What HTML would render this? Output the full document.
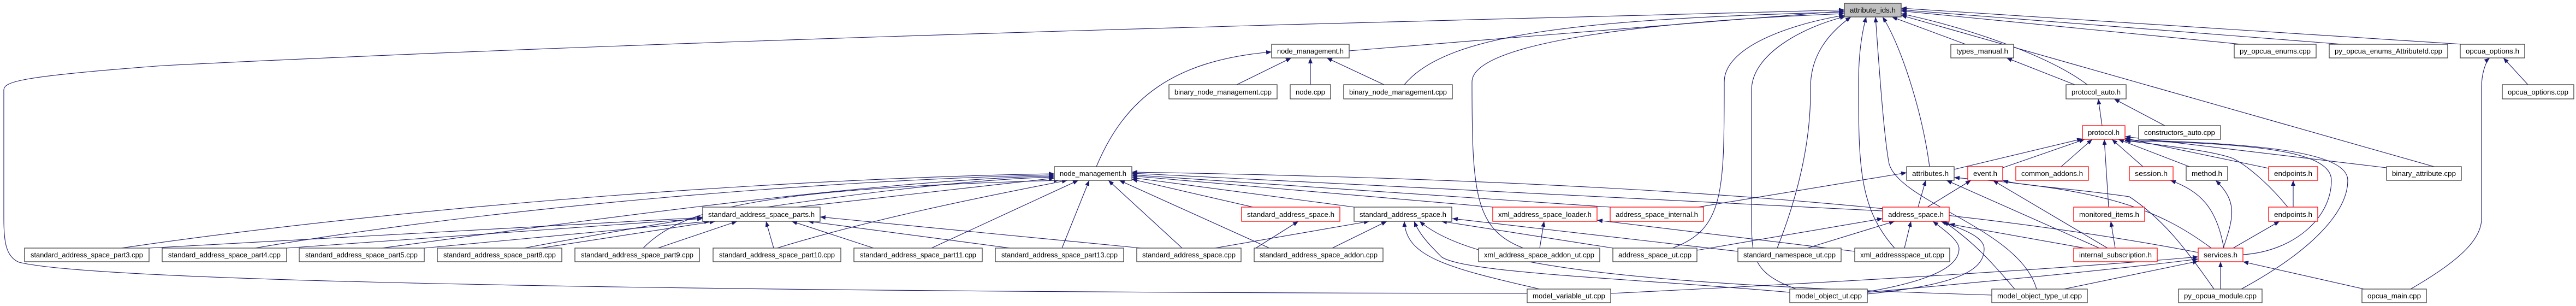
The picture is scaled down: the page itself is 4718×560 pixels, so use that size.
<!DOCTYPE html>
<html><head><meta charset="utf-8"><style>
html,body{margin:0;padding:0;background:#fff}
svg{display:block}
text{font-family:"Liberation Sans",Arial,sans-serif;font-size:12.5px;fill:#000}
.e{fill:none;stroke:#191970;stroke-width:1.1}
.b{fill:#fff;stroke:#404040;stroke-width:1.3}
.r{fill:#fff;stroke:#ff0000;stroke-width:1.3}
.g{fill:#bfbfbf;stroke:#404040;stroke-width:1.3}
</style></head><body>
<svg width="4718" height="560" viewBox="0 0 4718 560" xmlns="http://www.w3.org/2000/svg">
<defs><marker id="a" markerWidth="10" markerHeight="8" refX="10" refY="4" orient="auto" markerUnits="userSpaceOnUse"><path d="M0,0 L10,4 L0,8 Z" fill="#191970"/></marker></defs>
<g class="e" marker-end="url(#a)">
<!-- to node_management.h (row4) -->
<path d="M222,454 C800,370 1500,325 1931,318"/>
<path d="M467,454 C900,380 1500,330 1931,320"/>
<path d="M700,454 C1100,400 1600,330 1931,322"/>
<path d="M960,454 C1300,390 1700,330 1931,324"/>
<path d="M1178,454 C1250,380 1400,345 1940,330"/>
<path d="M1423,454 C1600,400 1800,360 1955,330"/>
<path d="M1706,454 L1975,330"/>
<path d="M1945,454 L1995,330"/>
<path d="M2165,454 L2030,330"/>
<path d="M2325,454 L2050,330"/>
<path d="M1460,379 L1931,326"/>
<path d="M2295,379 L2073,328"/>
<path d="M2480,379 L2073,325"/>
<path d="M2734,379 L2073,322"/>
<path d="M2949,379 L2073,320"/>
<path d="M3448,386 L2073,317"/>
<path d="M4026,462 C3600,380 3000,330 2073,315"/>
<!-- to standard_address_space_parts.h -->
<path d="M273,454 L1287,398"/>
<path d="M525,454 L1287,400"/>
<path d="M777,454 L1300,405"/>
<path d="M990,454 L1310,405"/>
<path d="M1205,454 L1350,405"/>
<path d="M1417,454 L1403,405"/>
<path d="M1600,454 L1450,405"/>
<path d="M1850,454 L1480,405"/>
<path d="M2090,454 L1502,397"/>
<!-- to node_management.h (row1) -->
<path d="M2265,155 L2365,106"/>
<path d="M2400,155 L2400,106"/>
<path d="M2535,155 L2430,106"/>
<path d="M2008,305 C2060,180 2150,110 2329,95"/>
<!-- to attribute_ids.h -->
<path d="M2471,93 L3378,20"/>
<path d="M2572,155 C2650,60 2900,35 3378,22"/>
<path d="M2790,454 C2700,420 2696,350 2696,150 C2696,80 3000,40 3378,25"/>
<path d="M3063,454 C3158,420 3158,350 3158,150 C3158,80 3300,40 3378,28"/>
<path d="M2797,537 C1500,535 200,520 35,480 C10,470 7,440 7,400 L7,165 C7,150 30,140 300,120 C1500,60 3000,30 3378,18"/>
<path d="M3255,454 C3316,300 3316,200 3316,160 C3316,100 3350,60 3390,31"/>
<path d="M3470,454 C3404,380 3404,300 3404,150 C3404,100 3410,60 3418,31"/>
<path d="M3730,529 C3700,420 3480,370 3460,300 C3450,250 3440,100 3435,31"/>
<path d="M3534,305 C3520,200 3480,80 3448,31"/>
<path d="M3290,529 C3210,500 3208,470 3208,400 L3208,165 C3208,100 3300,50 3380,30"/>
<path d="M3600,81 L3465,31"/>
<path d="M3823,155 C3750,100 3600,50 3482,25"/>
<path d="M4458,305 L3482,28"/>
<path d="M4105,81 L3482,20"/>
<path d="M4290,81 L3482,18"/>
<path d="M4510,81 L3482,15"/>
<!-- protocol chain -->
<path d="M3800,155 L3675,106"/>
<path d="M3850,230 L3843,181"/>
<path d="M3965,230 L3872,181"/>
<path d="M3579,310 L3814,254"/>
<path d="M3668,307 L3818,255"/>
<path d="M3775,305 L3832,255"/>
<path d="M3862,379 L3854,255"/>
<path d="M3925,305 L3868,255"/>
<path d="M4010,305 L3880,255"/>
<path d="M4155,308 L3892,253"/>
<path d="M4371,307 L3892,250"/>
<path d="M4108,466 C4200,460 4270,400 4270,330 C4270,280 4150,262 3892,258"/>
<path d="M4105,529 C4250,450 4300,380 4300,330 C4300,280 4150,262 3892,256"/>
<path d="M4190,379 C4150,330 4110,300 4090,290 C4050,275 3950,265 3892,257"/>
<path d="M4073,454 C4060,380 4030,350 3975,330"/>
<path d="M4072,454 C4090,400 4100,370 4058,330"/>
<path d="M4090,454 L4175,405"/>
<path d="M4200,379 L4200,330"/>
<!-- to address_space.h -->
<path d="M3310,454 L3470,405"/>
<path d="M3108,458 L3448,400"/>
<path d="M3488,454 L3500,405"/>
<path d="M3420,534 C3560,510 3588,480 3588,455 C3588,440 3560,420 3540,405"/>
<path d="M3420,538 C3600,520 3634,490 3634,455 C3634,430 3580,415 3555,405"/>
<path d="M3690,529 C3640,470 3610,440 3560,405"/>
<path d="M3818,454 L3570,410"/>
<!-- to standard_address_space.h -->
<path d="M2820,529 C2650,490 2575,470 2572,405"/>
<path d="M3278,535 C3000,510 2680,500 2640,470 C2620,450 2600,430 2590,405"/>
<path d="M3648,540 C3000,520 2700,490 2600,405"/>
<path d="M2225,454 L2508,405"/>
<path d="M2440,454 L2540,405"/>
<path d="M2954,454 L2640,405"/>
<path d="M3183,460 L2660,400"/>
<path d="M2300,454 L2378,405"/>
<path d="M2820,454 L2828,405"/>
<path d="M3397,460 L2925,403"/>
<!-- attributes/event -->
<path d="M3110,379 L3492,316"/>
<path d="M3513,379 L3527,330"/>
<path d="M3530,379 L3610,330"/>
<path d="M3845,454 L3565,330"/>
<path d="M3860,454 L3650,330"/>
<path d="M4050,454 C3950,380 3850,345 3579,325"/>
<path d="M4055,529 C4000,450 3960,400 3900,360 C3800,345 3700,340 3668,330"/>
<path d="M3874,454 L3866,405"/>
<!-- to services.h -->
<path d="M2950,537 C3400,515 3800,490 4026,470"/>
<path d="M3420,535 C3700,510 3900,490 4026,474"/>
<path d="M3780,529 L4026,478"/>
<path d="M4067,529 L4067,479"/>
<path d="M4330,529 L4108,479"/>
<!-- opcua options -->
<path d="M4415,529 C4500,480 4545,440 4545,400 L4545,160 C4545,130 4555,110 4560,106"/>
<path d="M4630,155 L4585,106"/>
</g>
<g>
<rect class="g" x="3378" y="6" width="104" height="25"/><text x="3388" y="23" textLength="84" lengthAdjust="spacingAndGlyphs">attribute_ids.h</text>
<rect class="b" x="2329" y="81" width="142" height="25"/><text x="2339" y="98" textLength="122" lengthAdjust="spacingAndGlyphs">node_management.h</text>
<rect class="b" x="3573" y="81" width="115" height="25"/><text x="3583" y="98" textLength="95" lengthAdjust="spacingAndGlyphs">types_manual.h</text>
<rect class="b" x="4092" y="81" width="150" height="25"/><text x="4102" y="98" textLength="130" lengthAdjust="spacingAndGlyphs">py_opcua_enums.cpp</text>
<rect class="b" x="4266" y="81" width="217" height="25"/><text x="4276" y="98" textLength="197" lengthAdjust="spacingAndGlyphs">py_opcua_enums_AttributeId.cpp</text>
<rect class="b" x="4506" y="81" width="118" height="25"/><text x="4516" y="98" textLength="98" lengthAdjust="spacingAndGlyphs">opcua_options.h</text>
<rect class="b" x="2141" y="155" width="198" height="26"/><text x="2151" y="173" textLength="178" lengthAdjust="spacingAndGlyphs">binary_node_management.cpp</text>
<rect class="b" x="2363" y="155" width="74" height="26"/><text x="2373" y="173" textLength="54" lengthAdjust="spacingAndGlyphs">node.cpp</text>
<rect class="b" x="2461" y="155" width="199" height="26"/><text x="2471" y="173" textLength="179" lengthAdjust="spacingAndGlyphs">binary_node_management.cpp</text>
<rect class="b" x="3784" y="155" width="110" height="26"/><text x="3794" y="173" textLength="90" lengthAdjust="spacingAndGlyphs">protocol_auto.h</text>
<rect class="b" x="4583" y="155" width="131" height="26"/><text x="4593" y="173" textLength="111" lengthAdjust="spacingAndGlyphs">opcua_options.cpp</text>
<rect class="r" x="3814" y="230" width="78" height="25"/><text x="3824" y="247" textLength="58" lengthAdjust="spacingAndGlyphs">protocol.h</text>
<rect class="b" x="3917" y="230" width="150" height="25"/><text x="3927" y="247" textLength="130" lengthAdjust="spacingAndGlyphs">constructors_auto.cpp</text>
<rect class="b" x="1931" y="305" width="142" height="25"/><text x="1941" y="322" textLength="122" lengthAdjust="spacingAndGlyphs">node_management.h</text>
<rect class="b" x="3492" y="305" width="87" height="25"/><text x="3502" y="322" textLength="67" lengthAdjust="spacingAndGlyphs">attributes.h</text>
<rect class="r" x="3604" y="305" width="64" height="25"/><text x="3614" y="322" textLength="44" lengthAdjust="spacingAndGlyphs">event.h</text>
<rect class="r" x="3692" y="305" width="133" height="25"/><text x="3702" y="322" textLength="113" lengthAdjust="spacingAndGlyphs">common_addons.h</text>
<rect class="r" x="3900" y="305" width="80" height="25"/><text x="3910" y="322" textLength="60" lengthAdjust="spacingAndGlyphs">session.h</text>
<rect class="b" x="4004" y="305" width="76" height="25"/><text x="4014" y="322" textLength="56" lengthAdjust="spacingAndGlyphs">method.h</text>
<rect class="r" x="4155" y="305" width="90" height="25"/><text x="4165" y="322" textLength="70" lengthAdjust="spacingAndGlyphs">endpoints.h</text>
<rect class="b" x="4371" y="305" width="137" height="25"/><text x="4381" y="322" textLength="117" lengthAdjust="spacingAndGlyphs">binary_attribute.cpp</text>
<rect class="b" x="1287" y="379" width="215" height="26"/><text x="1297" y="397" textLength="195" lengthAdjust="spacingAndGlyphs">standard_address_space_parts.h</text>
<rect class="r" x="2274" y="379" width="180" height="26"/><text x="2284" y="397" textLength="160" lengthAdjust="spacingAndGlyphs">standard_address_space.h</text>
<rect class="b" x="2480" y="379" width="179" height="26"/><text x="2490" y="397" textLength="159" lengthAdjust="spacingAndGlyphs">standard_address_space.h</text>
<rect class="r" x="2734" y="379" width="191" height="26"/><text x="2744" y="397" textLength="171" lengthAdjust="spacingAndGlyphs">xml_address_space_loader.h</text>
<rect class="r" x="2949" y="379" width="171" height="26"/><text x="2959" y="397" textLength="151" lengthAdjust="spacingAndGlyphs">address_space_internal.h</text>
<rect class="r" x="3448" y="379" width="122" height="26"/><text x="3458" y="397" textLength="102" lengthAdjust="spacingAndGlyphs">address_space.h</text>
<rect class="r" x="3798" y="379" width="130" height="26"/><text x="3808" y="397" textLength="110" lengthAdjust="spacingAndGlyphs">monitored_items.h</text>
<rect class="r" x="4155" y="379" width="90" height="26"/><text x="4165" y="397" textLength="70" lengthAdjust="spacingAndGlyphs">endpoints.h</text>
<rect class="b" x="45" y="454" width="228" height="25"/><text x="56" y="471" textLength="206" lengthAdjust="spacingAndGlyphs">standard_address_space_part3.cpp</text>
<rect class="b" x="297" y="454" width="228" height="25"/><text x="308" y="471" textLength="206" lengthAdjust="spacingAndGlyphs">standard_address_space_part4.cpp</text>
<rect class="b" x="548" y="454" width="229" height="25"/><text x="559" y="471" textLength="206" lengthAdjust="spacingAndGlyphs">standard_address_space_part5.cpp</text>
<rect class="b" x="801" y="454" width="228" height="25"/><text x="812" y="471" textLength="206" lengthAdjust="spacingAndGlyphs">standard_address_space_part8.cpp</text>
<rect class="b" x="1053" y="454" width="228" height="25"/><text x="1064" y="471" textLength="206" lengthAdjust="spacingAndGlyphs">standard_address_space_part9.cpp</text>
<rect class="b" x="1306" y="454" width="234" height="25"/><text x="1317" y="471" textLength="212" lengthAdjust="spacingAndGlyphs">standard_address_space_part10.cpp</text>
<rect class="b" x="1564" y="454" width="235" height="25"/><text x="1575" y="471" textLength="213" lengthAdjust="spacingAndGlyphs">standard_address_space_part11.cpp</text>
<rect class="b" x="1823" y="454" width="235" height="25"/><text x="1834" y="471" textLength="213" lengthAdjust="spacingAndGlyphs">standard_address_space_part13.cpp</text>
<rect class="b" x="2082" y="454" width="191" height="25"/><text x="2092" y="471" textLength="171" lengthAdjust="spacingAndGlyphs">standard_address_space.cpp</text>
<rect class="b" x="2297" y="454" width="236" height="25"/><text x="2307" y="471" textLength="216" lengthAdjust="spacingAndGlyphs">standard_address_space_addon.cpp</text>
<rect class="b" x="2708" y="454" width="222" height="25"/><text x="2718" y="471" textLength="202" lengthAdjust="spacingAndGlyphs">xml_address_space_addon_ut.cpp</text>
<rect class="b" x="2954" y="454" width="154" height="25"/><text x="2964" y="471" textLength="134" lengthAdjust="spacingAndGlyphs">address_space_ut.cpp</text>
<rect class="b" x="3183" y="454" width="189" height="25"/><text x="3193" y="471" textLength="169" lengthAdjust="spacingAndGlyphs">standard_namespace_ut.cpp</text>
<rect class="b" x="3397" y="454" width="174" height="25"/><text x="3407" y="471" textLength="154" lengthAdjust="spacingAndGlyphs">xml_addressspace_ut.cpp</text>
<rect class="r" x="3798" y="454" width="153" height="25"/><text x="3808" y="471" textLength="133" lengthAdjust="spacingAndGlyphs">internal_subscription.h</text>
<rect class="r" x="4026" y="454" width="82" height="25"/><text x="4036" y="471" textLength="62" lengthAdjust="spacingAndGlyphs">services.h</text>
<rect class="b" x="2797" y="529" width="153" height="25"/><text x="2807" y="546" textLength="133" lengthAdjust="spacingAndGlyphs">model_variable_ut.cpp</text>
<rect class="b" x="3278" y="529" width="142" height="25"/><text x="3288" y="546" textLength="122" lengthAdjust="spacingAndGlyphs">model_object_ut.cpp</text>
<rect class="b" x="3648" y="529" width="175" height="25"/><text x="3658" y="546" textLength="155" lengthAdjust="spacingAndGlyphs">model_object_type_ut.cpp</text>
<rect class="b" x="3990" y="529" width="153" height="25"/><text x="4000" y="546" textLength="133" lengthAdjust="spacingAndGlyphs">py_opcua_module.cpp</text>
<rect class="b" x="4326" y="529" width="118" height="25"/><text x="4336" y="546" textLength="98" lengthAdjust="spacingAndGlyphs">opcua_main.cpp</text>
</g>
</svg>
</body></html>
